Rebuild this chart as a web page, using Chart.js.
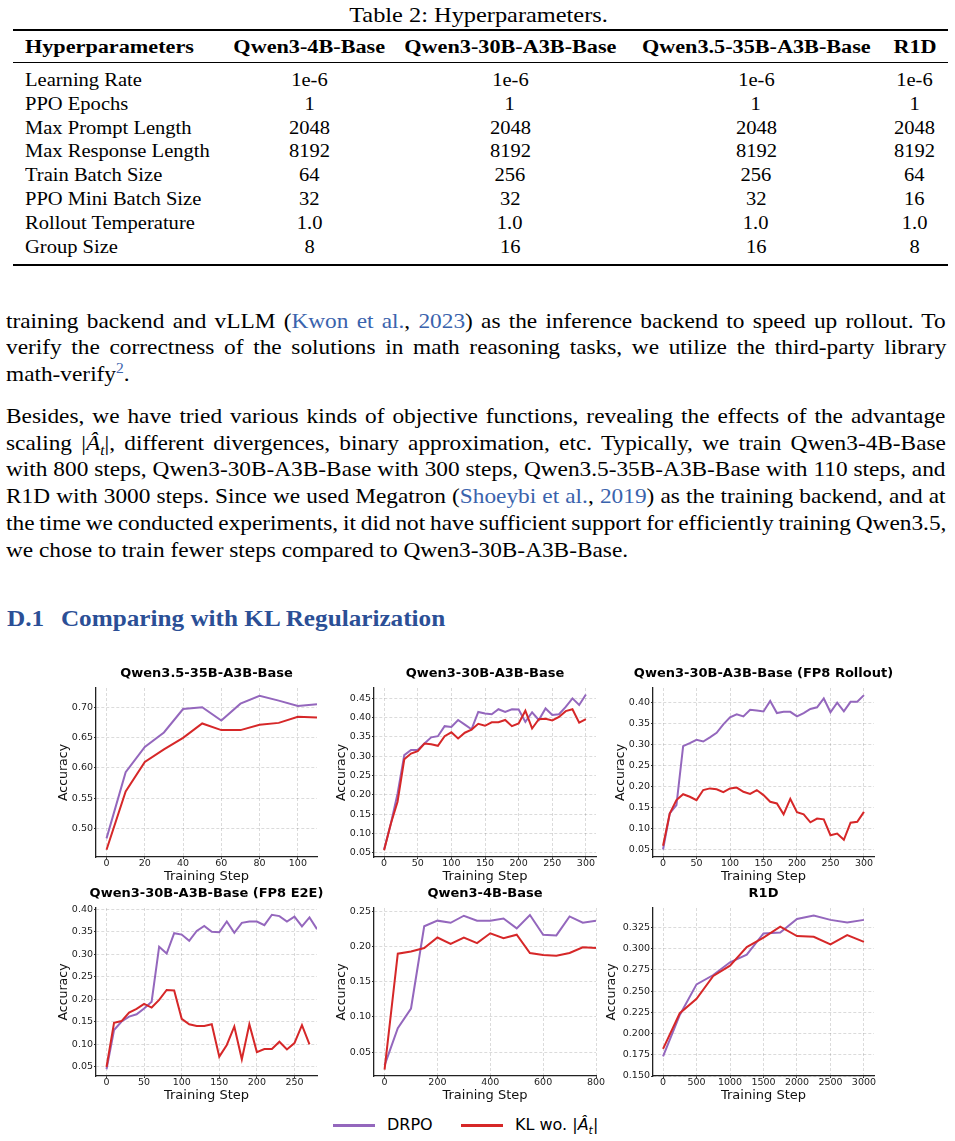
<!DOCTYPE html>
<html>
<head>
<meta charset="utf-8">
<script src="https://cdn.jsdelivr.net/npm/chart.js@4.4.1/dist/chart.umd.min.js"></script>
<style>
  html, body { margin: 0; padding: 0; background: #fff; }
  body { width: 955px; height: 1141px; position: relative; overflow: hidden; font-family: "Liberation Serif", "Times New Roman", serif; color: #000; }
  .abs { position: absolute; white-space: nowrap; }
  .rule { position: absolute; left: 13px; width: 935px; background: #000; }
  .row { position: absolute; left: 0; width: 955px; height: 24px; line-height: 24px; font-family: "Liberation Serif", serif; font-size: 18.5px; white-space: nowrap; }
  .cell { position: absolute; top: 0; width: 260px; margin-left: -130px; text-align: center; }
  .first { position: absolute; top: 0; left: 25px; }
  .cell span, .first span { display: inline-block; transform: scaleX(1.11); }
  .first span { transform-origin: left center; }
  .hdr span { font-weight: bold; transform: scaleX(1.2); }
  .line { position: absolute; left: 6px; width: 846.8px; height: 26px; line-height: 26px; font-family: "Liberation Serif", serif; font-size: 21px; white-space: nowrap; transform: scaleX(1.11); transform-origin: left center; }
  .cite { color: #3a63ad; }
  canvas { position: absolute; }
  .legend { position: absolute; font-family: "DejaVu Sans", sans-serif; font-size: 16px; line-height: 20px; white-space: nowrap; }
  .swatch { position: absolute; height: 3px; width: 42px; }
</style>
</head>
<body>

<div class="abs" style="left:279px; top:3px; width:400px; text-align:center; font-size:21px; line-height:24px;"><span style="display:inline-block; transform:scaleX(1.16)">Table 2: Hyperparameters.</span></div>
<div class="rule" style="top:29px; height:2px;"></div>
<div class="rule" style="top:62px; height:1px;"></div>
<div class="rule" style="top:264px; height:2px;"></div>
<div id="table"></div>

<div class="line" style="top:308px;"><span>training backend and vLLM (<span class="cite">Kwon et al.</span>, <span class="cite">2023</span>) as the inference backend to speed up rollout. To</span></div>
<div class="line" style="top:334px;"><span>verify the correctness of the solutions in math reasoning tasks, we utilize the third-party library</span></div>
<div class="line last" style="top:361px;"><span>math-verify<sup class="cite" style="font-size:14px; line-height:0;">2</sup>.</span></div>

<div class="line" style="top:403px;"><span>Besides, we have tried various kinds of objective functions, revealing the effects of the advantage</span></div>
<div class="line" style="top:430px;"><span>scaling |<i>Â<sub style="font-size:14px; line-height:0;">t</sub></i>|, different divergences, binary approximation, etc. Typically, we train Qwen3-4B-Base</span></div>
<div class="line" style="top:456px;"><span>with 800 steps, Qwen3-30B-A3B-Base with 300 steps, Qwen3.5-35B-A3B-Base with 110 steps, and</span></div>
<div class="line" style="top:483px;"><span>R1D with 3000 steps. Since we used Megatron (<span class="cite">Shoeybi et al.</span>, <span class="cite">2019</span>) as the training backend, and at</span></div>
<div class="line" style="top:510px;"><span>the time we conducted experiments, it did not have sufficient support for efficiently training Qwen3.5,</span></div>
<div class="line last" style="top:537px;"><span>we chose to train fewer steps compared to Qwen3-30B-A3B-Base.</span></div>

<div class="abs" style="left:7px; top:604px; font-size:24px; line-height:28px; font-weight:bold; color:#2b4f96; transform:scaleX(1.05); transform-origin:left center;">D.1<span style="display:inline-block; width:16px;"></span>Comparing with KL Regularization</div>

<div class="swatch" style="left:333px; top:1124px; background:#9467bd;"></div>
<div class="legend" style="left:387px; top:1115px;">DRPO</div>
<div class="swatch" style="left:461px; top:1124px; background:#d62728;"></div>
<div class="legend" style="left:515px; top:1115px;">KL wo. |<i>Â</i><sub style="font-size:11px; line-height:0;"><i>t</i></sub>|</div>

<script>
// table text
const tableHead = ['Hyperparameters', 'Qwen3-4B-Base', 'Qwen3-30B-A3B-Base', 'Qwen3.5-35B-A3B-Base', 'R1D'];
const tableRows = [
    ['Learning Rate', '1e-6', '1e-6', '1e-6', '1e-6'],
    ['PPO Epochs', '1', '1', '1', '1'],
    ['Max Prompt Length', '2048', '2048', '2048', '2048'],
    ['Max Response Length', '8192', '8192', '8192', '8192'],
    ['Train Batch Size', '64', '256', '256', '64'],
    ['PPO Mini Batch Size', '32', '32', '32', '16'],
    ['Rollout Temperature', '1.0', '1.0', '1.0', '1.0'],
    ['Group Size', '8', '16', '16', '8']
];

// Qwen3.5-35B-A3B-Base
const steps35 = [0, 10, 20, 30, 40, 50, 60, 70, 80, 90, 100, 110];
const drpo35 = [0.483, 0.593, 0.635, 0.659, 0.698, 0.701, 0.679, 0.707, 0.720, 0.712, 0.703, 0.706];
const kl35 = [0.464, 0.561, 0.610, 0.631, 0.650, 0.674, 0.663, 0.663, 0.672, 0.675, 0.685, 0.684];

// Qwen3-30B-A3B-Base
const steps30 = [0, 10, 20, 30, 40, 50, 60, 70, 80, 90, 100, 110, 120, 130, 140, 150, 160, 170, 180, 190, 200, 210, 220, 230, 240, 250, 260, 270, 280, 290, 300];
const drpo30 = [0.058, 0.125, 0.203, 0.303, 0.316, 0.316, 0.333, 0.349, 0.352, 0.378, 0.376, 0.394, 0.382, 0.370, 0.415, 0.411, 0.409, 0.422, 0.415, 0.422, 0.421, 0.389, 0.414, 0.394, 0.424, 0.407, 0.409, 0.428, 0.450, 0.433, 0.460];
const kl30 = [0.056, 0.125, 0.182, 0.292, 0.307, 0.313, 0.333, 0.331, 0.327, 0.352, 0.362, 0.346, 0.361, 0.369, 0.384, 0.379, 0.388, 0.388, 0.394, 0.378, 0.385, 0.418, 0.372, 0.396, 0.397, 0.393, 0.402, 0.417, 0.422, 0.387, 0.396];

// Qwen3-30B-A3B-Base (FP8 Rollout)
const drpoRollout = [0.049, 0.135, 0.155, 0.296, 0.303, 0.311, 0.307, 0.317, 0.328, 0.348, 0.365, 0.372, 0.367, 0.383, 0.381, 0.379, 0.404, 0.375, 0.378, 0.378, 0.367, 0.375, 0.385, 0.389, 0.410, 0.377, 0.400, 0.379, 0.402, 0.402, 0.418];
const klRollout = [0.058, 0.135, 0.167, 0.181, 0.175, 0.167, 0.191, 0.195, 0.193, 0.186, 0.195, 0.197, 0.187, 0.182, 0.191, 0.179, 0.163, 0.159, 0.133, 0.170, 0.138, 0.133, 0.114, 0.123, 0.121, 0.083, 0.087, 0.072, 0.113, 0.115, 0.139];

// Qwen3-30B-A3B-Base (FP8 E2E)
const stepsE2E = [0, 10, 20, 30, 40, 50, 60, 70, 80, 90, 100, 110, 120, 130, 140, 150, 160, 170, 180, 190, 200, 210, 220, 230, 240, 250, 260, 270, 280];
const drpoE2E = [0.045, 0.132, 0.151, 0.162, 0.167, 0.180, 0.195, 0.317, 0.302, 0.347, 0.344, 0.330, 0.352, 0.363, 0.350, 0.349, 0.373, 0.348, 0.370, 0.373, 0.373, 0.365, 0.388, 0.385, 0.373, 0.384, 0.362, 0.382, 0.356];
const klE2E = [0.050, 0.148, 0.152, 0.171, 0.179, 0.190, 0.182, 0.199, 0.221, 0.220, 0.157, 0.145, 0.141, 0.141, 0.145, 0.073, 0.099, 0.140, 0.067, 0.145, 0.083, 0.090, 0.090, 0.106, 0.089, 0.103, 0.143, 0.100];

// Qwen3-4B-Base
const steps4b = [0, 50, 100, 150, 200, 250, 300, 350, 400, 450, 500, 550, 600, 650, 700, 750, 800];
const drpo4b = [0.031, 0.084, 0.112, 0.229, 0.237, 0.234, 0.244, 0.237, 0.237, 0.240, 0.226, 0.245, 0.217, 0.216, 0.243, 0.234, 0.237];
const kl4b = [0.025, 0.190, 0.193, 0.198, 0.213, 0.204, 0.213, 0.205, 0.219, 0.212, 0.217, 0.191, 0.188, 0.187, 0.191, 0.199, 0.198];

// R1D
const stepsR1D = [0, 250, 500, 750, 1000, 1250, 1500, 1750, 2000, 2250, 2500, 2750, 3000];
const drpoR1D = [0.173, 0.222, 0.258, 0.269, 0.284, 0.293, 0.318, 0.319, 0.335, 0.339, 0.334, 0.331, 0.334];
const klR1D = [0.182, 0.224, 0.241, 0.268, 0.280, 0.302, 0.313, 0.326, 0.315, 0.314, 0.305, 0.316, 0.308];

// tick labels
const xTicks35 = [0, 20, 40, 60, 80, 100];
const xTicks30 = [0, 50, 100, 150, 200, 250, 300];
const xTicksE2E = [0, 50, 100, 150, 200, 250];
const xTicks4b = [0, 200, 400, 600, 800];
const xTicksR1D = [0, 500, 1000, 1500, 2000, 2500, 3000];
const yTicks35 = [0.50, 0.55, 0.60, 0.65, 0.70];
const yTicks30 = [0.05, 0.10, 0.15, 0.20, 0.25, 0.30, 0.35, 0.40, 0.45];
const yTicksRollout = [0.05, 0.10, 0.15, 0.20, 0.25, 0.30, 0.35, 0.40];
const yTicks4b = [0.05, 0.10, 0.15, 0.20, 0.25];
const yTicksR1D = [0.150, 0.175, 0.200, 0.225, 0.250, 0.275, 0.300, 0.325];

const PURPLE = '#9467bd';
const RED = '#d62728';
const SANS = '"DejaVu Sans", sans-serif';
const GRID = 'rgba(0,0,0,0.14)';

// build the table
const tableEl = document.getElementById('table');
const colCenters = [309.5, 510, 756, 914.6];
const rowCenters = [80, 103.8, 127.6, 151.4, 175.2, 199, 222.8, 246.6];
function addRow(cells, center, isHead) {
    const row = document.createElement('div');
    row.className = 'row' + (isHead ? ' hdr' : '');
    row.style.top = (center - 12) + 'px';
    let html = '<div class="first"><span>' + cells[0] + '</span></div>';
    for (let i = 1; i < cells.length; i++) {
        html += '<div class="cell" style="left:' + colCenters[i - 1] + 'px"><span>' + cells[i] + '</span></div>';
    }
    row.innerHTML = html;
    tableEl.appendChild(row);
}
addRow(tableHead, 46.7, true);
tableRows.forEach((r, i) => addRow(r, rowCenters[i], false));

// justify the paragraph lines by hand
document.querySelectorAll('.line').forEach(line => {
    if (line.classList.contains('last')) return;
    const inner = line.firstElementChild;
    const natural = inner.offsetWidth;
    const spaces = (inner.textContent.match(/ /g) || []).length;
    line.style.wordSpacing = ((846.8 - natural) / spaces) + 'px';
});

// panel title drawn centred over the plot area
const panelTitle = {
    id: 'panelTitle',
    afterDraw(chart, args, opts) {
        const {ctx, chartArea} = chart;
        ctx.save();
        ctx.font = 'bold 13px ' + SANS;
        ctx.fillStyle = '#000';
        ctx.textAlign = 'center';
        ctx.textBaseline = 'middle';
        ctx.fillText(opts.text, (chartArea.left + chartArea.right) / 2, chartArea.top - 14);
        ctx.restore();
    }
};

function points(xs, ys) {
    return ys.map((y, i) => ({x: xs[i], y: y}));
}

function panel(p) {
    const rp = 36;
    const canvas = document.createElement('canvas');
    const w = (p.R - p.L) + p.yw + rp;
    const h = 30 + (p.B - p.T) + 28;
    canvas.width = w;
    canvas.height = h;
    canvas.style.left = (p.L - p.yw) + 'px';
    canvas.style.top = (p.T - 30) + 'px';
    canvas.style.width = w + 'px';
    canvas.style.height = h + 'px';
    document.body.appendChild(canvas);

    new Chart(canvas, {
        type: 'line',
        data: {
            datasets: [
                { label: 'DRPO', data: points(p.steps, p.drpo), borderColor: PURPLE, borderWidth: 2, pointRadius: 0, tension: 0, order: 1 },
                { label: 'KL wo. |Â_t|', data: points(p.steps, p.kl), borderColor: RED, borderWidth: 2, pointRadius: 0, tension: 0, order: 0 }
            ]
        },
        options: {
            responsive: false,
            animation: false,
            devicePixelRatio: 1,
            layout: { padding: { top: 30, right: rp, bottom: 0, left: 0 } },
            plugins: {
                legend: { display: false },
                tooltip: { enabled: false },
                panelTitle: { text: p.title }
            },
            scales: {
                x: {
                    type: 'linear',
                    min: p.xMin,
                    max: p.xMax,
                    afterBuildTicks: axis => { axis.ticks = p.xTicks.map(v => ({value: v})); },
                    afterFit: axis => { axis.height = 28; },
                    ticks: { autoSkip: false, maxRotation: 0, padding: 0, color: '#222', font: { family: SANS, size: 9.5, lineHeight: 1 }, callback: v => String(v) },
                    grid: { color: GRID, lineWidth: 1, tickLength: 2, tickColor: '#333', tickBorderDash: [] },
                    border: { color: '#222', width: 1.3, dash: [3, 2] },
                    title: { display: true, text: 'Training Step', color: '#111', font: { family: SANS, size: 13, lineHeight: 1.2 }, padding: { top: 0, bottom: 0.5 } }
                },
                y: {
                    min: p.yMin,
                    max: p.yMax,
                    afterBuildTicks: axis => { axis.ticks = p.yTicks.map(v => ({value: v})); },
                    afterFit: axis => { axis.width = p.yw; },
                    ticks: { padding: 1, color: '#222', font: { family: SANS, size: 9.5, lineHeight: 1.2 }, callback: v => v.toFixed(p.digits) },
                    grid: { color: GRID, lineWidth: 1, tickLength: 2, tickColor: '#333', tickBorderDash: [] },
                    border: { color: '#222', width: 1.3, dash: [3, 2] },
                    title: { display: true, text: 'Accuracy', color: '#111', font: { family: SANS, size: 12.5, lineHeight: 1.2 }, padding: { top: 4, bottom: 0 } }
                }
            }
        },
        plugins: [panelTitle]
    });
}

panel({ title: 'Qwen3.5-35B-A3B-Base', L: 96, T: 688, R: 317, B: 857, yw: 44,
    steps: steps35, drpo: drpo35, kl: kl35, xMin: -5.5, xMax: 110, yMin: 0.452, yMax: 0.733,
    xTicks: xTicks35, yTicks: yTicks35, digits: 2 });
panel({ title: 'Qwen3-30B-A3B-Base', L: 374, T: 688, R: 596, B: 857, yw: 44,
    steps: steps30, drpo: drpo30, kl: kl30, xMin: -15, xMax: 315, yMin: 0.0386, yMax: 0.477,
    xTicks: xTicks30, yTicks: yTicks30, digits: 2 });
panel({ title: 'Qwen3-30B-A3B-Base (FP8 Rollout)', L: 653, T: 688, R: 874, B: 857, yw: 44,
    steps: steps30, drpo: drpoRollout, kl: klRollout, xMin: -15, xMax: 315, yMin: 0.031, yMax: 0.435,
    xTicks: xTicks30, yTicks: yTicksRollout, digits: 2 });
panel({ title: 'Qwen3-30B-A3B-Base (FP8 E2E)', L: 96, T: 908, R: 317, B: 1076, yw: 44,
    steps: stepsE2E, drpo: drpoE2E, kl: klE2E, xMin: -14, xMax: 280, yMin: 0.03, yMax: 0.403,
    xTicks: xTicksE2E, yTicks: yTicksRollout, digits: 2 });
panel({ title: 'Qwen3-4B-Base', L: 374, T: 908, R: 596, B: 1076, yw: 44,
    steps: steps4b, drpo: drpo4b, kl: kl4b, xMin: -40, xMax: 800, yMin: 0.016, yMax: 0.255,
    xTicks: xTicks4b, yTicks: yTicks4b, digits: 2 });
panel({ title: 'R1D', L: 653, T: 908, R: 874, B: 1076, yw: 53,
    steps: stepsR1D, drpo: drpoR1D, kl: klR1D, xMin: -150, xMax: 3150, yMin: 0.15, yMax: 0.348,
    xTicks: xTicksR1D, yTicks: yTicksR1D, digits: 3 });
</script>
</body>
</html>
